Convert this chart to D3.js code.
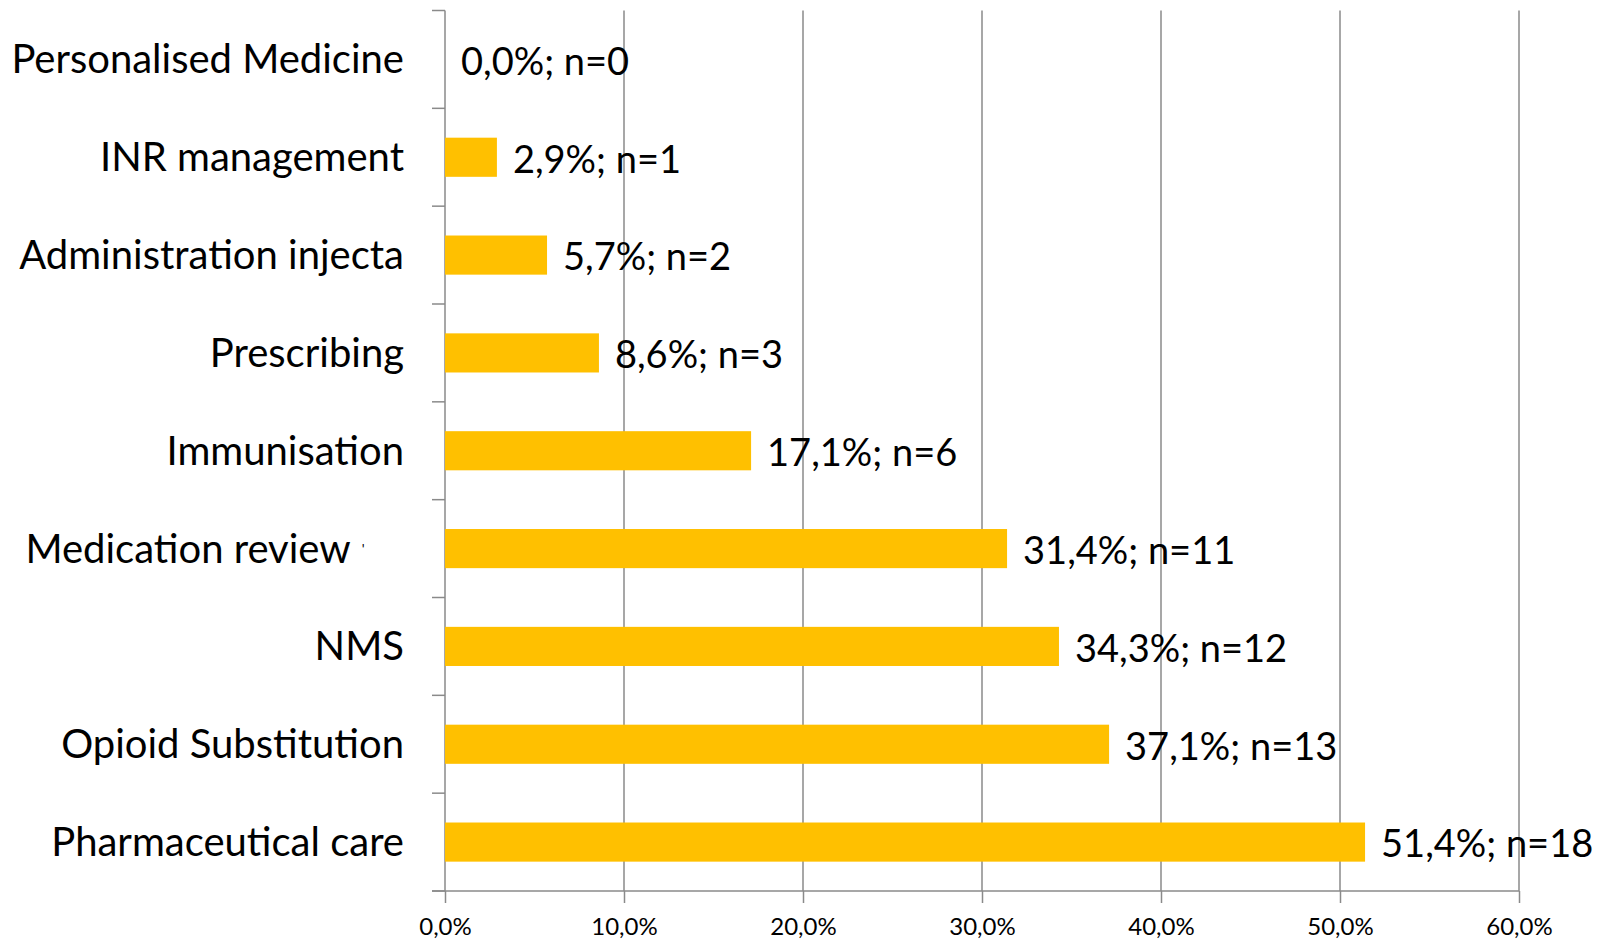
<!DOCTYPE html>
<html>
<head>
<meta charset="utf-8">
<script src="https://cdn.jsdelivr.net/npm/d3@7"></script>
<style>
  html, body { margin: 0; padding: 0; background: #fff; }
  svg { display: block; }
  text { font-family: Lato, "Open Sans", sans-serif; fill: #000; }
</style>
</head>
<body>
<svg id="chart" width="1614" height="939"></svg>
<script>
const categories = [
  "Personalised Medicine",
  "INR management",
  "Administration injecta",
  "Prescribing",
  "Immunisation",
  "Medication review",
  "NMS",
  "Opioid Substitution",
  "Pharmaceutical care"
];
const percentages = [0.0, 2.9, 5.7, 8.6, 17.1, 31.4, 34.3, 37.1, 51.4];
const counts = [0, 1, 2, 3, 6, 11, 12, 13, 18];
const xTicks = [0, 10, 20, 30, 40, 50, 60];

const data = categories.map((c, i) => ({ cat: c, pct: percentages[i], n: counts[i] }));

const margin = { left: 445, right: 95, top: 10.5, bottom: 48 };
const W = 1614, H = 939;
const svg = d3.select("#chart");

const x = d3.scaleLinear().domain([0, 60]).range([margin.left, W - margin.right]);
const y = d3.scaleBand().domain(categories).range([margin.top, H - margin.bottom])
  .paddingInner(0.6).paddingOuter(0.3);

const fmt = v => d3.format(".1f")(v).replace(".", ",");
const gridColor = "#8a8a8a";

// gridlines
svg.append("g").selectAll("line").data(xTicks.filter(t => t > 0)).join("line")
  .attr("x1", d => x(d)).attr("x2", d => x(d))
  .attr("y1", margin.top).attr("y2", H - margin.bottom)
  .attr("stroke", gridColor).attr("stroke-width", 1.5);

// x axis
const xAxis = svg.append("g")
  .attr("transform", `translate(0,${H - margin.bottom})`)
  .call(d3.axisBottom(x).tickValues(xTicks).tickSize(12).tickSizeOuter(0).tickPadding(15)
    .tickFormat(d => fmt(d) + "%"));
xAxis.select(".domain").remove();
xAxis.selectAll(".tick line").attr("stroke", gridColor).attr("stroke-width", 1.5);
xAxis.selectAll(".tick text").attr("font-size", 24).attr("font-family", "Lato, sans-serif").attr("fill", "#000");
svg.append("line")
  .attr("x1", x(0) - 13).attr("x2", x(60))
  .attr("y1", H - margin.bottom).attr("y2", H - margin.bottom)
  .attr("stroke", gridColor).attr("stroke-width", 1.5);

// y axis line with boundary ticks
const bounds = d3.range(categories.length + 1).map(i => margin.top + i * y.step());
svg.append("line")
  .attr("x1", x(0)).attr("x2", x(0))
  .attr("y1", margin.top).attr("y2", H - margin.bottom)
  .attr("stroke", gridColor).attr("stroke-width", 1.5);
svg.append("g").selectAll("line").data(bounds).join("line")
  .attr("x1", x(0) - 13).attr("x2", x(0))
  .attr("y1", d => d).attr("y2", d => d)
  .attr("stroke", gridColor).attr("stroke-width", 1.5);

// bars
svg.append("g").selectAll("rect").data(data).join("rect")
  .attr("x", x(0))
  .attr("y", d => y(d.cat))
  .attr("width", d => x(d.pct) - x(0))
  .attr("height", y.bandwidth())
  .attr("fill", "#FFC000");

// category labels
const catLabels = svg.append("g").selectAll("text").data(data).join("text")
  .attr("x", x(0) - 41)
  .attr("y", d => y(d.cat) + y.bandwidth() / 2)
  .attr("dy", "0.35em")
  .attr("text-anchor", "end")
  .attr("font-size", 40);
catLabels.each(function(d) {
  const t = d3.select(this);
  if (d.cat === "Medication review") {
    t.append("tspan").text(d.cat);
    t.append("tspan").text("'").attr("font-size", 14).attr("dx", 11).attr("dy", "-0.6em");
    t.append("tspan").text("\u00A0\u00A0\u00A0\u00A0\u00A0\u00A0\u00A0\u00A0\u00A0\u00A0\u00A0").attr("font-size", 14);
  } else {
    t.text(d.cat);
  }
});

// value labels
svg.append("g").selectAll("text").data(data).join("text")
  .attr("x", d => x(d.pct) + 16)
  .attr("y", d => y(d.cat) + y.bandwidth() / 2 + 2)
  .attr("dy", "0.35em")
  .attr("font-size", 38)
  .text(d => `${fmt(d.pct)}%; n=${d.n}`);
</script>
</body>
</html>
